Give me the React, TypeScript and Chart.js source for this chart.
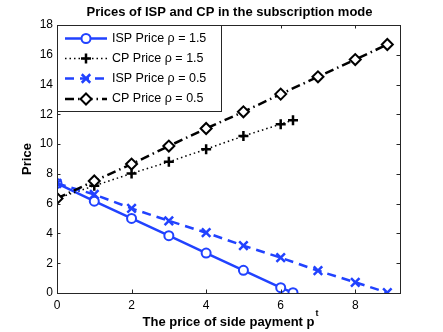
import React, { useEffect, useRef } from "react";
import { Chart, registerables } from "chart.js";
Chart.register(...registerables);

const TITLE = "Prices of ISP and CP in the subscription mode";
const X_LABEL = "The price of side payment p";
const X_LABEL_SUP = "t";
const Y_LABEL = "Price";
const X_TICKS = [0, 2, 4, 6, 8];
const Y_TICKS = [0, 2, 4, 6, 8, 10, 12, 14, 16, 18];
const SERIES_NAMES = ["ISP Price \u03c1 = 1.5", "CP Price \u03c1 = 1.5", "ISP Price \u03c1 = 0.5", "CP Price \u03c1 = 0.5"];

const highX = [0, 1, 2, 3, 4, 5, 6, 6.33];
const ispHighY = [7.36, 6.17, 5.01, 3.85, 2.68, 1.52, 0.36, 0.02];
const cpHighY = [6.35, 7.2, 8.03, 8.81, 9.66, 10.54, 11.34, 11.61];
const lowX = [0, 1, 2, 3, 4, 5, 6, 7, 8, 8.86];
const ispLowY = [7.36, 6.62, 5.68, 4.85, 4.05, 3.18, 2.37, 1.5, 0.72, 0.02];
const cpLowY = [6.35, 7.52, 8.66, 9.87, 11.05, 12.17, 13.36, 14.52, 15.68, 16.69];

const X_MIN = 0;
const X_MAX = 9.2;
const Y_MIN = 0;
const Y_MAX = 18;

const BLUE = "#2142ff";
const BLACK = "#000000";
const FONT = "'Liberation Sans', Arial, Helvetica, sans-serif";

const pts = (xs: number[], ys: number[]) => xs.map((x, i) => ({ x, y: ys[i] }));

function drawMarker(ctx: CanvasRenderingContext2D, style: string, x: number, y: number, r: number, stroke: string, fill: string, lw: number) {
  ctx.strokeStyle = stroke;
  ctx.fillStyle = fill;
  ctx.lineWidth = lw;
  ctx.beginPath();
  if (style === "circle") {
    ctx.arc(x, y, r, 0, Math.PI * 2);
    ctx.fill();
    ctx.stroke();
  } else if (style === "cross") {
    ctx.moveTo(x - r, y);
    ctx.lineTo(x + r, y);
    ctx.moveTo(x, y - r);
    ctx.lineTo(x, y + r);
    ctx.stroke();
  } else if (style === "crossRot") {
    const d = r * Math.SQRT1_2;
    ctx.moveTo(x - d, y - d);
    ctx.lineTo(x + d, y + d);
    ctx.moveTo(x - d, y + d);
    ctx.lineTo(x + d, y - d);
    ctx.stroke();
  } else if (style === "rectRot") {
    ctx.moveTo(x, y - r);
    ctx.lineTo(x + r, y);
    ctx.lineTo(x, y + r);
    ctx.lineTo(x - r, y);
    ctx.closePath();
    ctx.fill();
    ctx.stroke();
  }
}

const overlay = {
  id: "matlabOverlay",
  afterDraw(chart: any) {
    const ctx = chart.ctx as CanvasRenderingContext2D;
    const { left, right, top, bottom } = chart.chartArea;
    const xs = chart.scales.x;
    const ys = chart.scales.y;
    ctx.save();
    ctx.strokeStyle = "#262626";
    ctx.lineWidth = 1;
    ctx.strokeRect(Math.round(left) + 0.5, Math.round(top) + 0.5, Math.round(right - left), Math.round(bottom - top));
    const tl = 3.5;
    ctx.beginPath();
    X_TICKS.forEach((v) => {
      const px = Math.round(xs.getPixelForValue(v)) + 0.5;
      ctx.moveTo(px, bottom);
      ctx.lineTo(px, bottom - tl);
      ctx.moveTo(px, top);
      ctx.lineTo(px, top + tl);
    });
    Y_TICKS.forEach((v) => {
      const py = Math.round(ys.getPixelForValue(v)) + 0.5;
      ctx.moveTo(left, py);
      ctx.lineTo(left + tl, py);
      ctx.moveTo(right, py);
      ctx.lineTo(right - tl, py);
    });
    ctx.stroke();

    ctx.fillStyle = "#000";
    ctx.font = `bold 13px ${FONT}`;
    ctx.textAlign = "center";
    ctx.textBaseline = "middle";
    ctx.fillText(TITLE, (left + right) / 2 + 1, 12);

    ctx.font = `bold 13px ${FONT}`;
    const mainW = ctx.measureText(X_LABEL).width;
    ctx.font = `bold 9px ${FONT}`;
    const supW = ctx.measureText(X_LABEL_SUP).width;
    const total = mainW + supW + 1;
    const sx = (left + right) / 2 + 2 - total / 2;
    ctx.textAlign = "left";
    ctx.font = `bold 13px ${FONT}`;
    ctx.fillText(X_LABEL, sx, 322);
    ctx.font = `bold 9px ${FONT}`;
    ctx.fillText(X_LABEL_SUP, sx + mainW + 1, 314);

    ctx.save();
    ctx.translate(27, (top + bottom) / 2);
    ctx.rotate(-Math.PI / 2);
    ctx.textAlign = "center";
    ctx.font = `bold 13px ${FONT}`;
    ctx.fillText(Y_LABEL, 0, 0);
    ctx.restore();

    const lx = Math.round(left) + 0.5;
    const ly = Math.round(top) + 0.5;
    const lw = 164;
    const lh = 86;
    ctx.fillStyle = "#fff";
    ctx.fillRect(lx, ly, lw, lh);
    ctx.strokeStyle = "#262626";
    ctx.lineWidth = 1;
    ctx.strokeRect(lx, ly, lw, lh);
    const rowY = [38.5, 58.5, 78.5, 99];
    chart.data.datasets.forEach((ds: any, i: number) => {
      const y = rowY[i];
      ctx.save();
      ctx.strokeStyle = ds.borderColor;
      ctx.lineWidth = ds.borderWidth;
      ctx.setLineDash(ds.borderDash || []);
      ctx.beginPath();
      ctx.moveTo(left + 8, y);
      ctx.lineTo(left + 50, y);
      ctx.stroke();
      ctx.setLineDash([]);
      ctx.restore();
      ctx.save();
      drawMarker(ctx, ds.pointStyle, left + 29, y, ds.pointRadius, ds.pointBorderColor, ds.pointBackgroundColor, ds.pointBorderWidth);
      ctx.restore();
      ctx.fillStyle = "#000";
      ctx.font = `12.5px ${FONT}`;
      ctx.textAlign = "left";
      ctx.textBaseline = "middle";
      ctx.fillText(SERIES_NAMES[i], left + 55, y);
    });
    ctx.restore();
  },
};

export default function App() {
  const ref = useRef<HTMLCanvasElement | null>(null);
  useEffect(() => {
    if (!ref.current) return;
    const chart = new Chart(ref.current, {
      type: "line",
      data: {
        datasets: [
          {
            label: SERIES_NAMES[0],
            data: pts(highX, ispHighY),
            borderColor: BLUE,
            borderWidth: 2.5,
            pointStyle: "circle",
            pointRadius: 4.5,
            pointBorderWidth: 2,
            pointBorderColor: BLUE,
            pointBackgroundColor: "#fff",
            order: 4,
          },
          {
            label: SERIES_NAMES[1],
            data: pts(highX, cpHighY),
            borderColor: BLACK,
            borderWidth: 1.5,
            borderDash: [1.5, 3],
            pointStyle: "cross",
            pointRadius: 5,
            pointBorderWidth: 2.5,
            pointBorderColor: BLACK,
            pointBackgroundColor: BLACK,
            order: 3,
          },
          {
            label: SERIES_NAMES[2],
            data: pts(lowX, ispLowY),
            borderColor: BLUE,
            borderWidth: 2.5,
            borderDash: [9, 6],
            pointStyle: "crossRot",
            pointRadius: 6,
            pointBorderWidth: 2.5,
            pointBorderColor: BLUE,
            pointBackgroundColor: BLUE,
            order: 2,
          },
          {
            label: SERIES_NAMES[3],
            data: pts(lowX, cpLowY),
            borderColor: BLACK,
            borderWidth: 2.5,
            borderDash: [9, 4, 1.5, 4],
            pointStyle: "rectRot",
            pointRadius: 5.5,
            pointBorderWidth: 2,
            pointBorderColor: BLACK,
            pointBackgroundColor: "#fff",
            order: 1,
          },
        ],
      },
      options: {
        responsive: false,
        animation: false,
        events: [],
        layout: { padding: { left: 0, right: 43, top: 25, bottom: 0 } },
        plugins: { legend: { display: false }, tooltip: { enabled: false }, title: { display: false } },
        elements: { line: { tension: 0 } },
        scales: {
          x: {
            type: "linear",
            min: X_MIN,
            max: X_MAX,
            grid: { display: false, drawTicks: false },
            border: { display: false },
            ticks: { color: "#000", font: { family: FONT, size: 12 }, padding: 5 },
            afterBuildTicks: (axis: any) => {
              axis.ticks = X_TICKS.map((v) => ({ value: v }));
            },
            afterFit: (s: any) => {
              s.height = 39;
            },
          },
          y: {
            type: "linear",
            min: Y_MIN,
            max: Y_MAX,
            grid: { display: false, drawTicks: false },
            border: { display: false },
            ticks: { color: "#000", font: { family: FONT, size: 12 }, padding: 4 },
            afterBuildTicks: (axis: any) => {
              axis.ticks = Y_TICKS.map((v) => ({ value: v }));
            },
            afterFit: (s: any) => {
              s.width = 57;
            },
          },
        },
      },
      plugins: [overlay],
    } as any);
    return () => chart.destroy();
  }, []);
  return (
    <div style={{ position: "fixed", left: 0, top: 0, width: 443, height: 332, background: "#fff" }}>
      <canvas ref={ref} width={443} height={332} style={{ display: "block", width: 443, height: 332 }} />
    </div>
  );
}
